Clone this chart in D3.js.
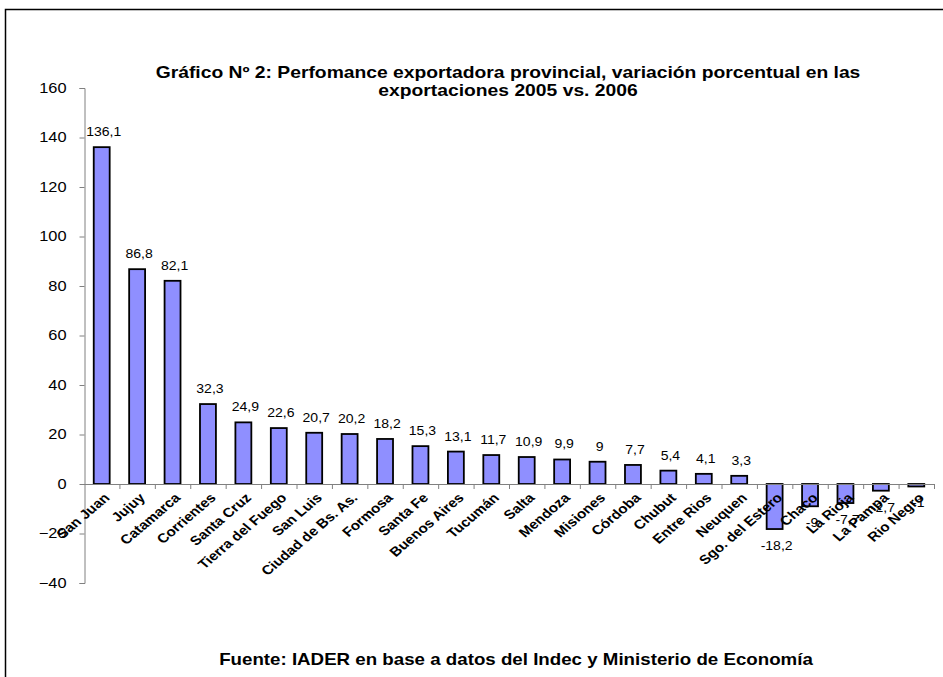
<!DOCTYPE html>
<html>
<head>
<meta charset="utf-8">
<script src="https://cdn.jsdelivr.net/npm/d3@7"></script>
<style>
  body { margin: 0; background: #fff; }
  svg { font-family: Arial, "Liberation Sans", sans-serif; }
</style>
</head>
<body>
<div id="chart"></div>
<script>
// provincias y variacion % exportaciones 2005 vs 2006
const provincias = ["San Juan", "Jujuy", "Catamarca", "Corrientes", "Santa Cruz", "Tierra del Fuego",
  "San Luis", "Ciudad de Bs. As.", "Formosa", "Santa Fe", "Buenos Aires", "Tucumán", "Salta",
  "Mendoza", "Misiones", "Córdoba", "Chubut", "Entre Rios", "Neuquen", "Sgo. del Estero",
  "Chaco", "La Rioja", "La Pampa", "Rio Negro"]
const variacion = [136.1, 86.8, 82.1, 32.3, 24.9, 22.6, 20.7, 20.2, 18.2, 15.3, 13.1, 11.7, 10.9,
  9.9, 9, 7.7, 5.4, 4.1, 3.3, -18.2, -9, -7.7, -2.7, -1]
const yTicks = [-40, -20, 0, 20, 40, 60, 80, 100, 120, 140, 160]

const W = 943, H = 677
const sx = 1.17  // el grafico original esta algo estirado en horizontal

const svg = d3.select("#chart").append("svg")
    .attr("width", W)
    .attr("height", H)

// marco
svg.append("path")
    .attr("d", "M5.5," + H + "V9.5H" + W)
    .style("fill", "none")
    .style("stroke", "#000")
    .style("stroke-width", 1.5)

const x = d3.scaleBand()
    .domain(provincias)
    .range([84, 934])
    .paddingInner(0.55)
    .paddingOuter(0.275)

const y = d3.scaleLinear()
    .domain([-40, 160])
    .range([583, 88])

// eje y
const yAxis = svg.append("g")
    .attr("transform", "translate(84.5,0)")
    .call(d3.axisLeft(y).tickValues(yTicks).tickSize(5).tickPadding(0).tickFormat(d3.format("d")))
yAxis.select(".domain").style("stroke", "#808080")
yAxis.selectAll(".tick line").style("stroke", "#808080")
yAxis.selectAll("text")
    .attr("x", 0)
    .attr("transform", "translate(-18,0) scale(" + sx + ",1)")
    .style("font-size", "14px")
    .style("fill", "#000")

// barras
svg.append("g")
    .selectAll("rect")
    .data(provincias)
    .enter()
    .append("rect")
    .attr("x", d => x(d))
    .attr("width", x.bandwidth())
    .attr("y", (d, i) => y(Math.max(0, variacion[i])))
    .attr("height", (d, i) => Math.abs(y(variacion[i]) - y(0)))
    .style("fill", "#8f8fff")
    .style("stroke", "#000")
    .style("stroke-width", 1.8)

// eje x en 0
const step = x.step()
svg.append("line")
    .attr("x1", 84).attr("x2", 934)
    .attr("y1", y(0) + 0.5).attr("y2", y(0) + 0.5)
    .style("stroke", "#808080")
svg.append("g")
    .selectAll("line")
    .data(d3.range(1, provincias.length + 1))
    .enter()
    .append("line")
    .attr("x1", d => 84.5 + d * step)
    .attr("x2", d => 84.5 + d * step)
    .attr("y1", y(0))
    .attr("y2", y(0) + 5)
    .style("stroke", "#808080")

// etiquetas de valores
svg.append("g")
    .selectAll("text")
    .data(provincias)
    .enter()
    .append("text")
    .attr("transform", (d, i) => {
        let ty = variacion[i] >= 0 ? y(variacion[i]) - 11 : y(variacion[i]) + 21
        return "translate(" + (x(d) + x.bandwidth() / 2 + 2) + "," + ty + ") scale(" + sx + ",1)"
    })
    .attr("text-anchor", "middle")
    .style("font-size", "12px")
    .text((d, i) => String(variacion[i]).replace(".", ","))

// etiquetas de categorias
svg.append("g")
    .selectAll("text")
    .data(provincias)
    .enter()
    .append("text")
    .attr("transform", d => "translate(" + (x(d) + x.bandwidth() / 2 + 1) + "," + (y(0) + 8) + ") scale(" + sx + ",1) rotate(-45)")
    .attr("text-anchor", "end")
    .attr("dy", "0.72em")
    .style("font-size", "13px")
    .style("font-weight", "bold")
    .text(d => d)

// titulo
const title = svg.append("g")
    .attr("transform", "translate(508,0) scale(" + sx + ",1)")
    .append("text")
    .attr("y", 78)
    .attr("text-anchor", "middle")
    .style("font-size", "16.5px")
    .style("font-weight", "bold")
title.append("tspan").attr("x", 0).text("Gráfico Nº 2: Perfomance exportadora provincial, variación porcentual en las")
title.append("tspan").attr("x", 0).attr("dy", 18).text("exportaciones 2005 vs. 2006")

// fuente
svg.append("text")
    .attr("transform", "translate(516,665) scale(" + sx + ",1)")
    .attr("text-anchor", "middle")
    .style("font-size", "16px")
    .style("font-weight", "bold")
    .text("Fuente: IADER en base a datos del Indec y Ministerio de Economía")
</script>
</body>
</html>
